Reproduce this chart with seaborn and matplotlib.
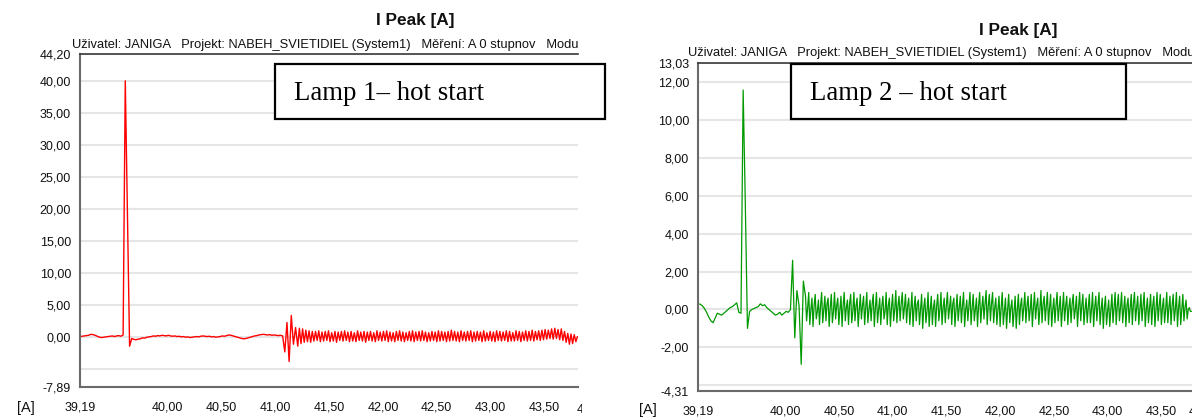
import numpy as np
import pandas as pd
import matplotlib
matplotlib.use("Agg")
import matplotlib.pyplot as plt
import seaborn as sns
from matplotlib.patches import Rectangle
from matplotlib.transforms import Bbox, TransformedBbox

# ---------------- data ----------------
t_start = 39.19
dt_slow = 0.02          # sampling step of the quiet / start-up part
red_osc_start = 41.21
red_osc_dt = 0.015
green_osc_start = 40.19
green_osc_dt = 0.01

red_pre = [0.0, 0.05, 0.1, 0.15, 0.2, 0.35, 0.3, 0.2, 0.05, -0.1, -0.15, -0.1, -0.05, 0.0, 0.05, 0.1,
           0.0, 0.1, 0.15, 0.05, 0.25]
red_spike = [40.0, 19.7, -1.5]
red_mid = [-0.3, -0.45, -0.5, -0.4, -0.35, -0.2, -0.25, -0.1, -0.05, 0.0,
           0.1, 0.05, 0.15, 0.1, 0.2, 0.15, 0.1, 0.2, 0.1, 0.05,
           0.1, 0.0, 0.05, -0.05, 0.0, -0.1, -0.05, -0.15, -0.1, -0.05,
           0.0, -0.05, 0.05, 0.1, 0.05, 0.0, 0.05, -0.05, 0.0, -0.1,
           -0.05, 0.0, 0.1, 0.05, 0.15, 0.25, 0.2, 0.1, 0.0, -0.1,
           -0.2, -0.3, -0.35, -0.3, -0.2, -0.1, 0.0, 0.1, 0.15, 0.25,
           0.3, 0.35, 0.3, 0.25, 0.3, 0.2, 0.25, 0.2, 0.15, 0.2, 0.1]
red_burst = [-2.4, 2.2, -3.9, 3.3, -1.2, 1.4]
red_osc = [-1.5, 1.3, -1.1, 1.2, -0.9, 1.0, -0.8, 0.9, -0.9, 0.8,
           -0.7, 0.8, -0.6, 0.9, -0.8, 0.7, -0.7, 0.8, -0.6, 0.9,
           -0.8, 0.6, -0.7, 0.8, -0.9, 0.7, -0.6, 0.8, -0.7, 0.9,
           -0.6, 0.7, -0.8, 0.8, -0.7, 0.6, -0.8, 0.9, -0.6, 0.7,
           -0.7, 0.8, -0.9, 0.7, -0.6, 0.8, -0.7, 0.6, -0.8, 0.9,
           -0.6, 0.7, -0.7, 0.8, -0.6, 0.9, -0.8, 0.7, -0.7, 0.6,
           -0.8, 0.8, -0.6, 0.9, -0.7, 0.7, -0.8, 0.6, -0.6, 0.8,
           -0.7, 0.9, -0.8, 0.7, -0.6, 0.8, -0.7, 0.9, -0.6, 0.7,
           -0.8, 0.6, -0.7, 0.8, -0.6, 0.7, -0.8, 0.9, -0.7, 0.8,
           -0.6, 0.7, -0.8, 0.8, -0.7, 1.0, -0.6, 0.8, -0.7, 0.7,
           -0.8, 0.9, -0.6, 0.7, -0.7, 0.8, -0.6, 0.9, -0.8, 0.7,
           -0.7, 0.8, -0.6, 0.7, -0.8, 0.9, -0.7, 0.6, -0.6, 0.8,
           -0.7, 0.7, -0.8, 0.9, -0.6, 0.8, -0.7, 0.7, -0.6, 0.9,
           -0.8, 0.8, -0.7, 0.6, -0.7, 0.9, -0.6, 0.8, -0.8, 0.7,
           -0.6, 0.9, -0.7, 0.8, -0.6, 1.0, -0.7, 0.8, -0.5, 0.9,
           -0.6, 1.0, -0.5, 1.1, -0.4, 1.0, -0.3, 1.2, -0.4, 1.3,
           -0.3, 1.1, -0.5, 1.2, -0.6, 0.8, -0.9, 0.5, -1.2, 0.4,
           -1.1, 0.3, -0.8, 0.0]

green_pre = [0.3, 0.28, 0.2, 0.05, -0.15, -0.4, -0.6, -0.7, -0.45, -0.2, -0.25, -0.3, -0.2, -0.1,
             0.0, 0.1, 0.15, 0.25, 0.35, -0.15, -0.2]
green_spike = [11.6, 5.6, -1.0]
green_mid = [-0.1, 0.0, 0.05, 0.1, 0.15, 0.3, 0.2, 0.25, 0.1, 0.0,
             -0.1, -0.2, -0.3, -0.25, -0.15, -0.3, -0.2, -0.1, -0.15, 0.0]
green_burst = [2.6, -1.5, 1.0, 0.2, -2.9, 1.5]
green_osc = [0.7, -0.6, 0.1, 0.9, -0.8, 0.0, 0.6, -0.9, 0.2, 0.8, -0.5, -0.1,
             0.5, -0.8, 0.2, 0.9, -0.7, 0.0, 0.7, -0.6, 0.3, 0.6, -0.9, 0.1,
             0.8, -0.7, -0.1, 0.9, -0.5, 0.2, 0.6, -0.8, 0.0, 0.7, -0.9, 0.2,
             0.9, -0.6, 0.1, 0.5, -0.8, 0.3, 0.8, -0.7, -0.1, 0.9, -0.6, 0.2,
             0.6, -0.9, 0.0, 0.8, -0.5, 0.2, 0.7, -0.8, 0.1, 0.9, -0.7, 0.0,
             0.5, -0.6, 0.3, 0.8, -0.9, 0.1, 0.9, -0.7, 0.0, 0.6, -0.8, 0.2,
             0.7, -0.5, -0.1, 0.9, -0.8, 0.2, 0.6, -0.9, 0.1, 0.8, -0.6, 0.0,
             1.0, -0.7, 0.2, 0.7, -0.6, 0.3, 0.9, -0.5, 0.1, 0.8, -0.7, 0.2,
             0.6, -0.8, 0.0, 0.9, -0.9, 0.1, 0.7, -0.6, 0.3, 0.5, -0.8, 0.0,
             0.8, -1.0, 0.1, 0.6, -0.7, -0.1, 0.9, -0.9, 0.0, 0.7, -0.8, 0.1,
             0.5, -0.9, 0.2, 0.8, -0.6, 0.0, 0.9, -0.8, 0.1, 0.6, -0.7, 0.2,
             0.9, -0.5, 0.1, 0.7, -0.8, 0.3, 0.6, -0.9, 0.0, 0.8, -0.6, 0.1,
             0.7, -0.7, 0.2, 0.9, -0.9, 0.0, 0.5, -0.6, 0.2, 0.9, -0.8, 0.1,
             0.8, -0.6, 0.0, 0.6, -0.9, 0.2, 0.9, -0.7, 0.1, 0.7, -0.5, 0.3,
             1.0, -0.8, 0.2, 0.8, -0.6, 0.3, 0.9, -0.7, 0.1, 0.6, -0.8, 0.0,
             0.7, -0.9, 0.1, 0.9, -0.8, -0.1, 0.6, -1.0, 0.0, 0.8, -0.7, 0.1,
             0.5, -0.9, -0.1, 0.7, -1.0, 0.0, 0.8, -0.8, 0.2, 0.6, -0.6, 0.1,
             0.9, -0.7, 0.2, 0.7, -0.6, 0.0, 0.8, -0.9, 0.1, 0.9, -0.5, 0.2,
             0.6, -0.8, 0.0, 1.0, -0.7, 0.3, 0.7, -0.6, 0.2, 0.9, -0.8, 0.1,
             0.8, -0.9, 0.0, 0.6, -0.7, 0.2, 0.9, -0.6, 0.1, 0.7, -0.9, 0.0,
             0.9, -0.6, 0.2, 0.7, -0.8, 0.1, 0.6, -0.7, 0.3, 0.8, -0.5, 0.0,
             0.7, -0.9, 0.1, 0.9, -0.6, 0.2, 0.8, -0.8, 0.0, 0.6, -0.7, 0.1,
             0.8, -0.7, 0.0, 0.9, -0.9, 0.1, 0.7, -0.6, 0.2, 0.9, -0.8, 0.0,
             0.6, -1.0, 0.1, 0.7, -0.8, -0.1, 0.5, -0.9, 0.0, 0.8, -0.7, 0.1,
             0.9, -0.8, 0.2, 0.8, -0.6, 0.1, 0.9, -0.7, 0.0, 0.7, -0.9, 0.2,
             0.6, -0.7, 0.1, 0.8, -0.8, 0.3, 0.9, -0.6, 0.1, 0.7, -0.8, 0.0,
             0.8, -0.6, 0.2, 0.9, -0.9, 0.0, 0.6, -0.7, 0.1, 0.8, -0.8, 0.2,
             0.7, -0.9, 0.0, 0.9, -0.6, 0.2, 0.8, -0.8, 0.1, 0.6, -0.7, 0.0,
             0.9, -0.7, 0.1, 0.7, -0.8, 0.2, 0.8, -0.6, 0.0, 0.9, -0.9, 0.1,
             0.7, -0.8, 0.0, 0.8, -0.6, 0.1, 0.5, -0.5, 0.0, 0.1, -0.1, -0.1]

title_text = "I Peak [A]"
header_text = "Uživatel: JANIGA   Projekt: NABEH_SVIETIDIEL (System1)   Měření: A 0 stupnov   Modul"
box_left = "Lamp 1– hot start"
box_right = "Lamp 2 – hot start"
unit_label = "[A]"
cut_label = "44,00"

x_ticks = [39.19, 39.5, 40.0, 40.5, 41.0, 41.5, 42.0, 42.5, 43.0, 43.5]
yL_ticks = [-7.89, -5.0, 0.0, 5.0, 10.0, 15.0, 20.0, 25.0, 30.0, 35.0, 40.0, 44.20]
yR_ticks = [-4.31, -4.0, -2.0, 0.0, 2.0, 4.0, 6.0, 8.0, 10.0, 12.0, 13.03]
yL_unlabeled = [-5.0]
yR_unlabeled = [-4.0]


def build(slow_vals, osc_vals, osc_start, osc_dt):
    t1 = t_start + dt_slow * np.arange(len(slow_vals))
    t2 = osc_start + osc_dt * np.arange(len(osc_vals))
    return pd.DataFrame({"t": np.concatenate([t1, t2]),
                         "I": list(slow_vals) + list(osc_vals)})


df_red = build(red_pre + red_spike + red_mid + red_burst, red_osc, red_osc_start, red_osc_dt)
df_green = build(green_pre + green_spike + green_mid + green_burst, green_osc,
                 green_osc_start, green_osc_dt)

# ---------------- style ----------------
sns.set_style("white")
plt.rcParams["font.family"] = ["Liberation Sans", "DejaVu Sans"]

W, H = 1192, 420
fig = plt.figure(figsize=(W / 100, H / 100), dpi=100)
fig.patch.set_facecolor("white")


def fmt(v):
    return f"{v:.2f}".replace(".", ",")


spine_col = "#6a6a6a"
text_col = "#111111"
TICK_FS = 9


def setup(ax, ylim, yticks, yunl, xlim):
    ax.set_xlim(*xlim)
    ax.set_ylim(*ylim)
    ax.set_yticks(yticks)
    ax.set_yticklabels(["" if v in yunl else fmt(v) for v in yticks])
    ax.set_xticks(x_ticks)
    ax.set_xticklabels(["" if v == 39.5 else fmt(v) for v in x_ticks])
    ax.tick_params(axis="both", direction="out", length=5, width=1, color=spine_col,
                   labelsize=TICK_FS, labelcolor=text_col)
    ax.tick_params(axis="y", pad=1.5)
    ax.tick_params(axis="x", pad=5.5)
    ax.yaxis.grid(True, color="#e6e6e6", linewidth=1.5)
    ax.xaxis.grid(False)
    ax.set_axisbelow(True)
    for s in ["left", "bottom"]:
        ax.spines[s].set_color(spine_col)
        ax.spines[s].set_linewidth(1.5)
    ax.spines["top"].set_color("#3a3a3a")
    ax.spines["top"].set_linewidth(1.2)
    ax.spines["right"].set_visible(False)
    ax.set_xlabel("")
    ax.set_ylabel("")


# left panel
axL = fig.add_axes([80 / W, 1 - 387 / H, 498 / W, (387 - 54) / H])
sns.lineplot(data=df_red, x="t", y="I", ax=axL, color="#ff0000", linewidth=1.0,
             estimator=None, sort=False)
setup(axL, (-7.89, 44.20), yL_ticks, yL_unlabeled, (39.19, 43.81))

# right panel
axR = fig.add_axes([698 / W, 1 - 391 / H, 494 / W, (391 - 63) / H])
sns.lineplot(data=df_green, x="t", y="I", ax=axR, color="#009a00", linewidth=0.9,
             estimator=None, sort=False)
setup(axR, (-4.31, 13.03), yR_ticks, yR_unlabeled, (39.19, 43.785))

# cut-off next tick labels at the right edges (as in the screenshot)
cl = fig.text(577 / W, 1 - 409 / H, cut_label, ha="left", va="center", fontsize=TICK_FS,
              color=text_col)
cl.set_clip_box(TransformedBbox(Bbox([[0, 0], [582 / W, 1]]), fig.transFigure))
cl.set_clip_on(True)
fig.text(1189 / W, 1 - 411 / H, cut_label, ha="left", va="center", fontsize=TICK_FS,
         color=text_col)

# titles
fig.text(415 / W, 1 - 20 / H, title_text, ha="center", va="center", fontsize=12.4,
         fontweight="bold", color=text_col)
fig.text(1018 / W, 1 - 30 / H, title_text, ha="center", va="center", fontsize=12.4,
         fontweight="bold", color=text_col)

# header lines
hL = fig.text(72 / W, 1 - 45 / H, header_text, ha="left", va="center", fontsize=9.25,
              color=text_col)
hL.set_clip_box(TransformedBbox(Bbox([[0, 0], [579 / W, 1]]), fig.transFigure))
hL.set_clip_on(True)
fig.text(688 / W, 1 - 53 / H, header_text, ha="left", va="center", fontsize=9.25,
         color=text_col)

# unit labels
fig.text(17 / W, 1 - 408 / H, unit_label, ha="left", va="center", fontsize=10.5, color=text_col)
fig.text(639 / W, 1 - 410 / H, unit_label, ha="left", va="center", fontsize=10.5, color=text_col)

# annotation boxes
for (x0, x1, txt) in [(275, 605, box_left), (791, 1126, box_right)]:
    fig.add_artist(Rectangle((x0 / W, 1 - 119 / H), (x1 - x0) / W, 55 / H,
                             transform=fig.transFigure, facecolor="white",
                             edgecolor="black", linewidth=1.6, zorder=5))
    fig.text((x0 + 19) / W, 1 - 94 / H, txt, ha="left", va="center", fontsize=19.3,
             family=["Liberation Serif", "DejaVu Serif"], color="black", zorder=6)

fig.savefig("out.png", dpi=100)
